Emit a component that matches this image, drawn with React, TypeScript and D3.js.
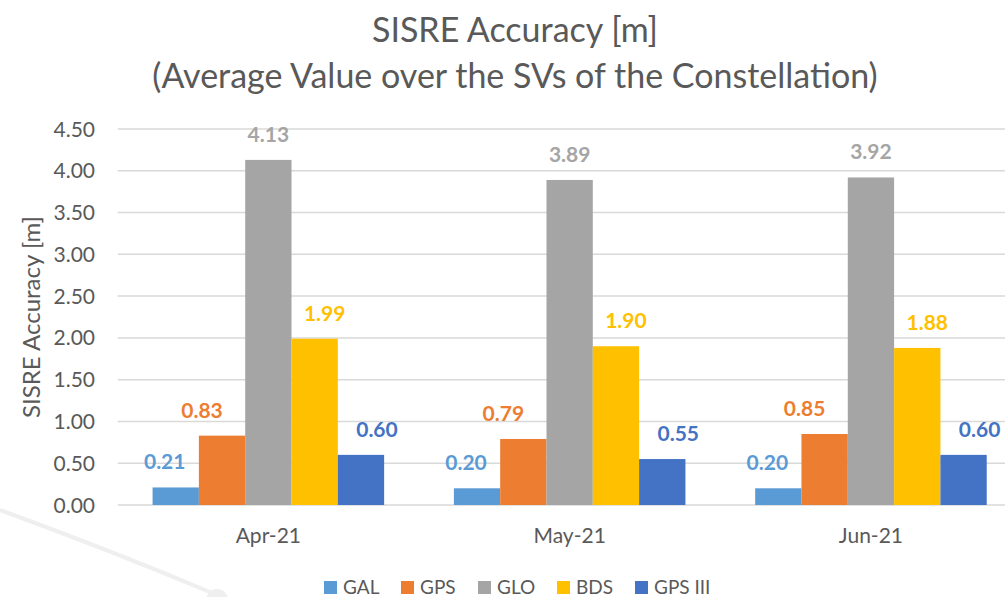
import React from "react";
import * as d3 from "d3";

const categories = ["Apr-21", "May-21", "Jun-21"];
const seriesNames = ["GAL", "GPS", "GLO", "BDS", "GPS III"];
const galValues = [0.21, 0.2, 0.2];
const gpsValues = [0.83, 0.79, 0.85];
const gloValues = [4.13, 3.89, 3.92];
const bdsValues = [1.99, 1.9, 1.88];
const gps3Values = [0.6, 0.55, 0.6];
const yTicks = [0, 0.5, 1, 1.5, 2, 2.5, 3, 3.5, 4, 4.5];
const titleLines = ["SISRE Accuracy [m]", "(Average Value over the SVs of the Constellation)"];
const yAxisTitle = "SISRE Accuracy [m]";

const seriesValues = [galValues, gpsValues, gloValues, bdsValues, gps3Values];
const colors = ["#5B9BD5", "#ED7D31", "#A5A5A5", "#FFC000", "#4472C4"];
const labelDx = [-11, -20, 0, 10, 16];

const W = 1005;
const H = 597;
const FONT = "Lato, 'Open Sans', sans-serif";
const TXT = "#595959";

export default function App() {
  const x0 = d3.scaleBand<string>().domain(categories).range([117.7, 1021.6]).padding(0);
  const x1 = d3
    .scaleBand<string>()
    .domain(seriesNames)
    .range([0, x0.bandwidth()])
    .paddingInner(0)
    .paddingOuter(0.753);
  const y = d3.scaleLinear().domain([0, 4.5]).range([505, 129]);
  const fmt = d3.format(".2f");

  const legendX = [324, 401, 478, 557, 635];

  return (
    <svg
      width={W}
      height={H}
      style={{ position: "fixed", left: 0, top: 0, background: "#fff" }}
      fontFamily={FONT}
    >
      <rect x={0} y={0} width={W} height={H} fill="#fff" />
      {/* faint watermark */}
      <path d="M0,510 Q110,550 217,595" fill="none" stroke="#EFEFEF" strokeWidth={4} />
      <circle cx={217} cy={600} r={11} fill="#EFEFEF" />

      {/* title */}
      <text x={515} y={42} textAnchor="middle" fontSize={34} fill={TXT}>
        {titleLines[0]}
      </text>
      <text x={515} y={88} textAnchor="middle" fontSize={34} fill={TXT}>
        {titleLines[1]}
      </text>

      {/* grid + y ticks */}
      {yTicks.map((t) => (
        <g key={t}>
          <line x1={117.7} x2={W} y1={y(t)} y2={y(t)} stroke="#D9D9D9" strokeWidth={1.5} />
          <text x={95} y={y(t)} dy="0.36em" textAnchor="end" fontSize={21} fill={TXT}>
            {fmt(t)}
          </text>
        </g>
      ))}

      {/* y axis title */}
      <text
        transform={`translate(40,${317}) rotate(-90)`}
        textAnchor="middle"
        fontSize={24}
        fill={TXT}
      >
        {yAxisTitle}
      </text>

      {/* bars */}
      {categories.map((c, ci) => (
        <g key={c} transform={`translate(${x0(c)},0)`}>
          {seriesNames.map((s, si) => {
            const v = seriesValues[si][ci];
            const bx = x1(s)!;
            return (
              <rect
                key={s}
                x={bx}
                y={y(v)}
                width={x1.bandwidth()}
                height={y(0) - y(v)}
                fill={colors[si]}
              />
            );
          })}
          {seriesNames.map((s, si) => {
            const v = seriesValues[si][ci];
            const bx = x1(s)! + x1.bandwidth() / 2 + labelDx[si];
            return (
              <text
                key={s + "l"}
                x={bx}
                y={y(v) - 18}
                textAnchor="middle"
                fontSize={21}
                fontWeight="bold"
                fill={colors[si]}
              >
                {fmt(v)}
              </text>
            );
          })}
          <text
            x={x0.bandwidth() / 2}
            y={543}
            textAnchor="middle"
            fontSize={21}
            fill={TXT}
          >
            {c}
          </text>
        </g>
      ))}

      {/* legend */}
      {seriesNames.map((s, si) => (
        <g key={s} transform={`translate(${legendX[si]},0)`}>
          <rect x={0} y={581} width={13} height={13} fill={colors[si]} />
          <text x={19} y={594} fontSize={19} fill={TXT}>
            {s}
          </text>
        </g>
      ))}
    </svg>
  );
}
